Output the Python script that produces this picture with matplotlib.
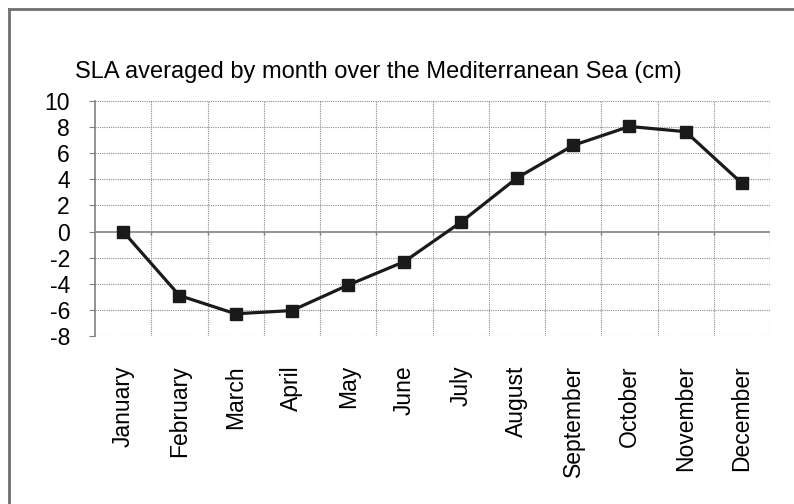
import numpy as np
import matplotlib
matplotlib.use("Agg")
from matplotlib import pyplot as plt

# monthly mean SLA values (cm)
months = ["January", "February", "March", "April", "May", "June",
          "July", "August", "September", "October", "November", "December"]
sla = [0.0, -4.9, -6.3, -6.05, -4.1, -2.3, 0.7, 4.1, 6.6, 8.05, 7.65, 3.7]
yticks = [10, 8, 6, 4, 2, 0, -2, -4, -6, -8]

plt.rcParams["font.family"] = ["Liberation Sans", "DejaVu Sans"]

fig = plt.figure(figsize=(7.94, 5.04), dpi=100)
ax = fig.add_axes([95 / 794, 1 - 336 / 504, 675 / 794, 235 / 504])

x = np.arange(len(months)) + 0.5
ax.set_xlim(0, len(months))
ax.set_ylim(-8, 10)

# grid: dotted lines at every tick and category boundary
for yv in yticks:
    if yv != 0:
        ax.axhline(yv, color="#8c8c8c", lw=0.8, ls=(0, (1, 1)), zorder=1)
for xv in range(1, len(months) + 1):
    ax.axvline(xv, color="#8c8c8c", lw=0.8, ls=(0, (1, 1)), zorder=1)
ax.axhline(0, color="#808080", lw=1.2, zorder=2)
# small category tick marks hanging under the zero line
ax.vlines(range(1, len(months) + 1), -0.25, 0, color="#808080", lw=1.0, zorder=2)

ax.plot(x, sla, color="#1a1a1a", lw=2.3, marker="s", markersize=8, zorder=3)

for side in ["top", "right", "bottom"]:
    ax.spines[side].set_visible(False)
ax.spines["left"].set_color("#808080")
ax.spines["left"].set_linewidth(1.2)

ax.set_yticks(yticks)
ax.set_yticklabels([str(v) for v in yticks], fontsize=16.5)
ax.tick_params(axis="y", length=4, color="#808080", pad=14)

ax.set_xticks(x)
ax.set_xticklabels(months, rotation=90, fontsize=16.5, va="top")
ax.tick_params(axis="x", length=0, pad=21)

fig.text(75 / 794, 1 - 72 / 504, "SLA averaged by month over the Mediterranean Sea (cm)",
         fontsize=17, ha="left", va="center")

# outer chart frame: top and left edges only
fig.add_artist(plt.Line2D([9 / 794, 1], [1 - 9 / 504, 1 - 9 / 504], color="#707070", lw=2))
fig.add_artist(plt.Line2D([9 / 794, 9 / 794], [0, 1 - 9 / 504], color="#707070", lw=2))

fig.savefig("out.png", dpi=100)
